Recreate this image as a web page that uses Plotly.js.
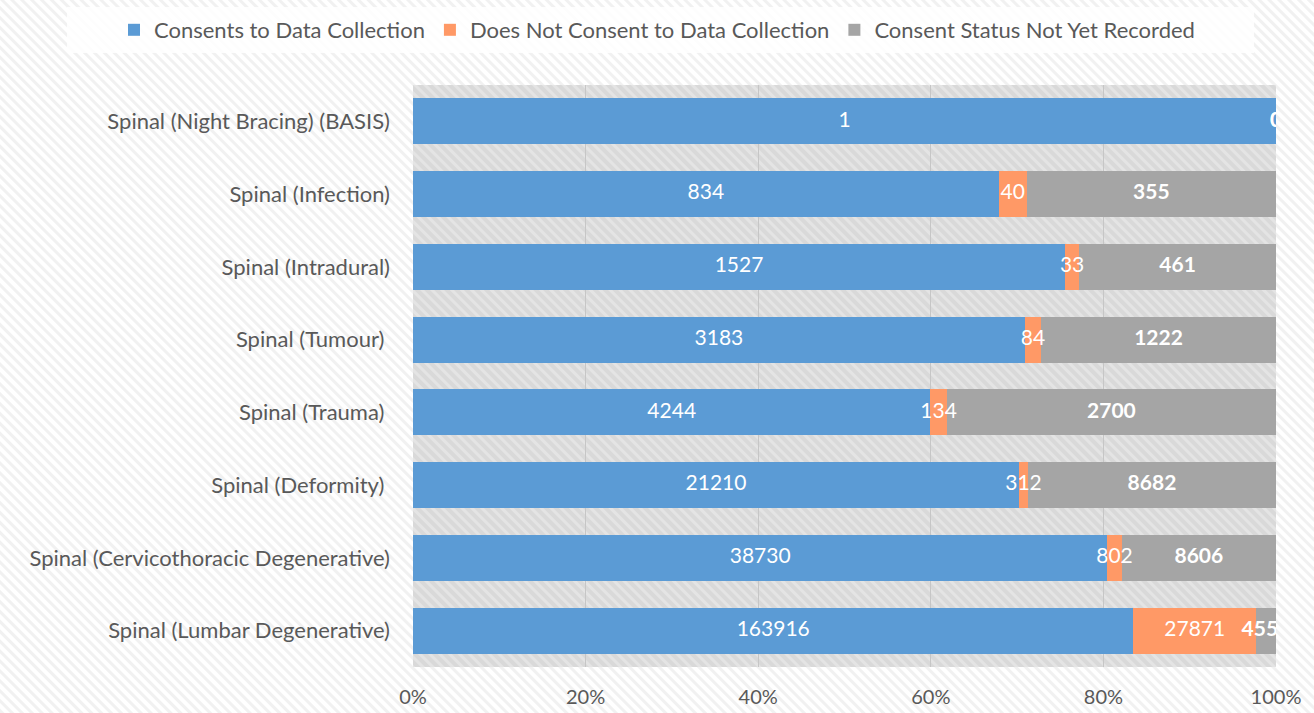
<!DOCTYPE html>
<html>
<head>
<meta charset="utf-8">
<script src="https://cdn.plot.ly/plotly-3.0.1.min.js"></script>
<style>html,body{margin:0;padding:0;background:#fff;}#chart{width:1314px;height:713px;}</style>
</head>
<body>
<div id="chart"></div>
<script>
// Data (top-to-bottom order)
var categories = [
  "Spinal (Night Bracing) (BASIS)",
  "Spinal (Infection)",
  "Spinal (Intradural)",
  "Spinal (Tumour)\u00a0",
  "Spinal (Trauma)\u00a0",
  "Spinal (Deformity)\u00a0",
  "Spinal (Cervicothoracic Degenerative)",
  "Spinal (Lumbar Degenerative)"
];
var consents = [1, 834, 1527, 3183, 4244, 21210, 38730, 163916];
var notConsent = [0, 40, 33, 84, 134, 312, 802, 27871];
var notRecorded = [0, 355, 461, 1222, 2700, 8682, 8606, 4555];
var seriesNames = ["Consents to Data Collection", "Does Not Consent to Data Collection", "Consent Status Not Yet Recorded"];
var xTickVals = [0, 20, 40, 60, 80, 100];
var xTickText = ["0%", "20%", "40%", "60%", "80%", "100%"];

var W = 1314, H = 713;
var pL = 413, pR = 1276, pT = 85, pB = 667;
var mT = pT, mB = H - pB;
var ph = pB - pT;

function hatch(w, h, base, stripe) {
  var s = "<svg xmlns='http://www.w3.org/2000/svg' width='" + w + "' height='" + h + "'>" +
    "<defs><pattern id='p' width='7' height='7' patternUnits='userSpaceOnUse' patternTransform='rotate(-45)'>" +
    "<rect width='7' height='7' fill='" + base + "'/><rect width='3' height='7' fill='" + stripe + "'/></pattern></defs>" +
    "<rect width='100%' height='100%' fill='url(#p)'/></svg>";
  return "data:image/svg+xml;charset=utf-8," + encodeURIComponent(s);
}

var font = "Lato, 'Open Sans', sans-serif";
var series = [consents, notConsent, notRecorded];
var colors = ["#5B9BD5", "#FF9966", "#A5A5A5"];
var bolds = [false, false, true];

var data = [];
series.forEach(function (vals, k) {
  data.push({
    type: "bar", orientation: "h", name: seriesNames[k],
    x: vals, y: categories, textposition: "none",
    marker: {color: colors[k], line: {width: 0}},
    hoverinfo: "name+x"
  });
});

// Labels drawn on top of all bars, centred in each stacked segment (percent scale)
var totals = categories.map(function (_, i) { return consents[i] + notConsent[i] + notRecorded[i]; });
series.forEach(function (vals, k) {
  var mids = vals.map(function (v, i) {
    var start = 0;
    for (var j = 0; j < k; j++) start += series[j][i];
    return 100 * (start + v / 2) / totals[i];
  });
  data.push({
    type: "scatter", mode: "text", showlegend: false, hoverinfo: "skip", cliponaxis: true,
    x: mids, y: categories, text: vals.map(String), textposition: "middle center",
    textfont: {family: font, size: 21, color: "#ffffff", weight: bolds[k] ? 700 : 400}
  });
});

var layout = {
  width: W, height: H,
  margin: {l: 0, r: 0, t: mT, b: mB, pad: 0},
  barmode: "stack", barnorm: "percent", bargap: 0.37,
  paper_bgcolor: "#ffffff", plot_bgcolor: "#dddddd",
  font: {family: font, color: "#595959", size: 20},
  showlegend: true,
  legend: {orientation: "h", xref: "paper", x: 0.5, xanchor: "center", yref: "container", y: 1 - 30 / H, yanchor: "middle",
    bgcolor: "rgba(0,0,0,0)", font: {family: font, size: 22, color: "#595959"}, traceorder: "normal", itemwidth: 30},
  xaxis: {domain: [pL / W, pR / W], range: [0, 100], tickvals: xTickVals, ticktext: xTickText, showgrid: true, gridcolor: "#c6c6c6", gridwidth: 1.3,
    zeroline: false, showline: false, ticks: "", ticklabelstandoff: 16, automargin: false, tickfont: {family: font, size: 20, color: "#595959"}, fixedrange: true},
  yaxis: {autorange: "reversed", type: "category", showgrid: false, zeroline: false, showline: false, ticks: "", automargin: false,
    ticklabelstandoff: 22, tickfont: {family: font, size: 22, color: "#595959"}, fixedrange: true},
  images: [
    {source: hatch(W, H, "#ffffff", "#f1f1f1"), xref: "paper", yref: "paper", x: 0, y: 1 + mT / ph,
      sizex: 1, sizey: H / ph, sizing: "stretch", xanchor: "left", yanchor: "top", layer: "below"},
    {source: hatch(pR - pL, ph, "#d9d9d9", "#e4e4e4"), xref: "paper", yref: "paper", x: pL / W, y: 1,
      sizex: (pR - pL) / W, sizey: 1, sizing: "stretch", xanchor: "left", yanchor: "top", layer: "below"}
  ],
  shapes: [
    {type: "rect", xref: "paper", yref: "paper", layer: "below",
      x0: 67 / W, x1: 1254 / W, y0: 1 + (mT - 53) / ph, y1: 1 + (mT - 7) / ph,
      fillcolor: "rgba(255,255,255,0.85)", line: {width: 0}}
  ]
};

Plotly.newPlot("chart", data, layout, {displayModeBar: false, staticPlot: true});
</script>
</body>
</html>
